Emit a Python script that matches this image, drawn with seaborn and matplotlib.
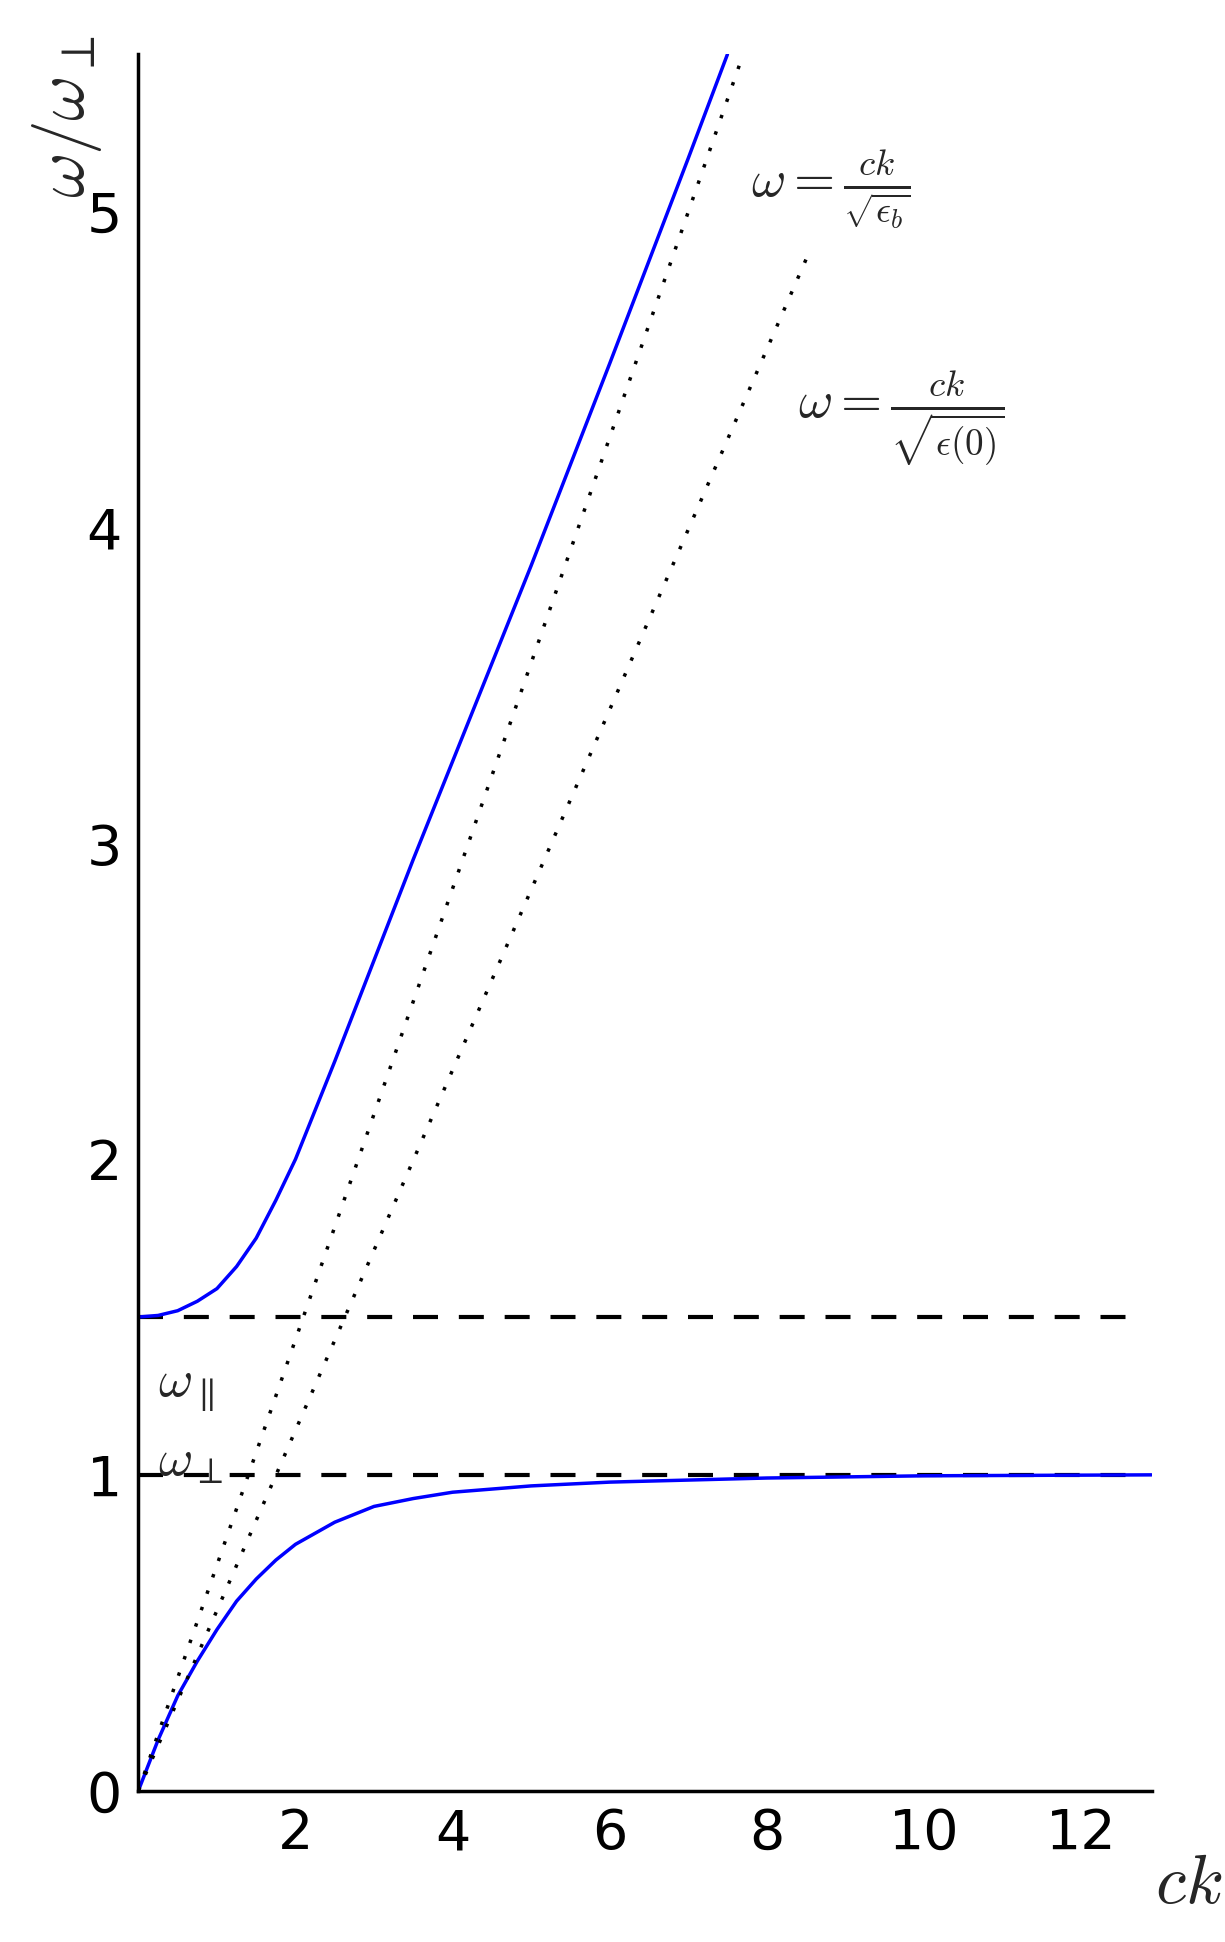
import matplotlib
matplotlib.use('Agg')
import matplotlib.pyplot as plt
import seaborn as sns
import pandas as pd

# --- Data ---
upper_ck = [0.0, 0.25, 0.5, 0.75, 1.0, 1.25, 1.5, 1.75, 2.0, 2.5, 3.0, 3.5, 4.0, 5.0, 6.0, 7.0, 7.5]
upper_w = [1.5, 1.505, 1.52, 1.55, 1.59, 1.66, 1.75, 1.87, 2.0, 2.31, 2.63, 2.95, 3.26, 3.88, 4.52, 5.17, 5.5]
lower_ck = [0.0, 0.25, 0.5, 0.75, 1.0, 1.25, 1.5, 1.75, 2.0, 2.5, 3.0, 3.5, 4.0, 5.0, 6.0, 8.0, 10.0, 12.9]
lower_w = [0.0, 0.16, 0.3, 0.41, 0.51, 0.6, 0.67, 0.73, 0.78, 0.85, 0.9, 0.925, 0.945, 0.965, 0.977, 0.99, 0.997, 1.0]
light_b_ck = [0.0, 7.7]
light_b_w = [0.0, 5.5]
light_0_ck = [0.0, 8.5]
light_0_w = [0.0, 4.85]
w_par, w_perp = 1.5, 1.0
x_ticks = [2, 4, 6, 8, 10, 12]
y_ticks = [0, 1, 2, 3, 4, 5]

sns.set_style('white')
plt.rcParams['font.family'] = ['DejaVu Sans']
plt.rcParams['mathtext.fontset'] = 'cm'

fig = plt.figure(figsize=(12.25, 19.42), dpi=100)
ax = fig.add_axes([0.113, 0.078, 0.827, 0.894])

up = pd.DataFrame({'ck': upper_ck, 'w': upper_w})
lo = pd.DataFrame({'ck': lower_ck, 'w': lower_w})
sns.lineplot(data=up, x='ck', y='w', ax=ax, color='blue', lw=2.5)
sns.lineplot(data=lo, x='ck', y='w', ax=ax, color='blue', lw=2.5)
sns.lineplot(x=light_b_ck, y=light_b_w, ax=ax, color='black', lw=2.5, linestyle=(0, (1, 4)))
sns.lineplot(x=light_0_ck, y=light_0_w, ax=ax, color='black', lw=2.5, linestyle=(0, (1, 4)))
ax.axhline(w_par, xmax=0.99, color='black', lw=3, ls=(0, (6, 5)), zorder=1)
ax.axhline(w_perp, xmax=0.99, color='black', lw=3, ls=(0, (6, 5)), zorder=1)

ax.text(0.25, 1.25, r'$\omega_{\parallel}$', fontsize=38)
ax.text(0.25, 1.0, r'$\omega_{\perp}$', fontsize=38)
ax.text(7.8, 5.05, r'$\omega = \frac{ck}{\sqrt{\epsilon_b}}$', fontsize=38)
ax.text(8.4, 4.35, r'$\omega = \frac{ck}{\sqrt{\epsilon(0)}}$', fontsize=38)

ax.set_xlim(0, 12.9)
ax.set_ylim(0, 5.5)
ax.set_xticks(x_ticks)
ax.set_yticks(y_ticks)
ax.tick_params(direction='in', length=14, width=1.5, labelsize=40, pad=12,
               colors='black')
for s in ['top', 'right']:
    ax.spines[s].set_visible(False)
for s in ['left', 'bottom']:
    ax.spines[s].set_linewidth(2.5)
    ax.spines[s].set_color('black')

ax.set_xlabel('')
ax.set_ylabel('')
fig.text(0.97, 0.03, r'$ck$', fontsize=50, ha='center', va='center')
fig.text(0.055, 0.94, r'$\omega/\omega_{\perp}$', fontsize=50, rotation=90, ha='center', va='center')

fig.savefig('out.png', dpi=100)
